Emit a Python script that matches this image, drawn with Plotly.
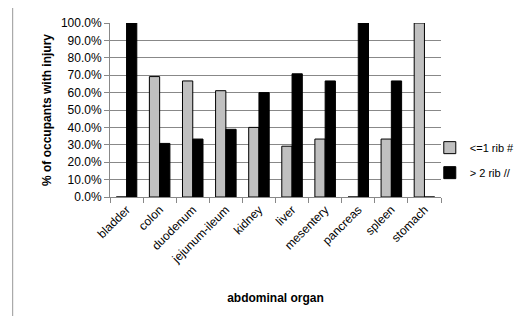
import plotly.graph_objects as go

organs = ["bladder", "colon", "duodenum", "jejunum-ileum", "kidney", "liver",
          "mesentery", "pancreas", "spleen", "stomach"]
le1_rib = [0.0, 0.692, 0.667, 0.611, 0.40, 0.292, 0.333, 0.0, 0.333, 1.0]
ge2_rib = [1.0, 0.308, 0.333, 0.389, 0.60, 0.708, 0.667, 1.0, 0.667, 0.0]
series_names = ["<=1 rib #", "> 2 rib //"]

font = "Liberation Sans, DejaVu Sans, sans-serif"

fig = go.Figure()
fig.add_trace(go.Bar(x=organs, y=le1_rib, name=series_names[0], legendgroup="a",
                     marker=dict(color="#c0c0c0", line=dict(color="#000000", width=1))))
fig.add_trace(go.Bar(x=organs, y=ge2_rib, name=series_names[1], legendgroup="b",
                     marker=dict(color="#000000", line=dict(color="#000000", width=1))))

fig.update_layout(
    width=515, height=308,
    margin=dict(l=102, r=82, t=15, b=119, autoexpand=False),
    paper_bgcolor="white", plot_bgcolor="white",
    barmode="group", bargap=0.38, bargroupgap=0.0,
    font=dict(family=font, size=12, color="#000000"),
    showlegend=True,
    legend=dict(x=0.819, y=0.506, xref="container", yref="container",
                xanchor="left", yanchor="middle",
                font=dict(size=11), itemwidth=30, tracegroupgap=6,
                bgcolor="rgba(0,0,0,0)"),
    xaxis=dict(tickangle=-45, showline=True, linecolor="#888888", linewidth=1,
               ticks="outside", ticklen=5, tickcolor="#888888",
               tickson="boundaries",
               title=dict(text="<b>abdominal organ</b>", font=dict(size=12), standoff=28),
               tickfont=dict(size=12)),
    yaxis=dict(range=[0, 1.0], dtick=0.1, tickformat=".1%", showgrid=True,
               gridcolor="#888888", gridwidth=1, showline=True, linecolor="#888888",
               ticks="outside", ticklen=5, tickcolor="#888888",
               zeroline=False,
               title=dict(text="<b>% of occupants with injury</b>", font=dict(size=12), standoff=6),
               tickfont=dict(size=12)),
    shapes=[dict(type="rect", xref="paper", yref="paper",
                 x0=-0.294, x1=1.4, y0=-0.75, y1=1.092,
                 line=dict(color="#999999", width=1), fillcolor="rgba(0,0,0,0)", layer="below")],
)

fig.write_html("out.html")
